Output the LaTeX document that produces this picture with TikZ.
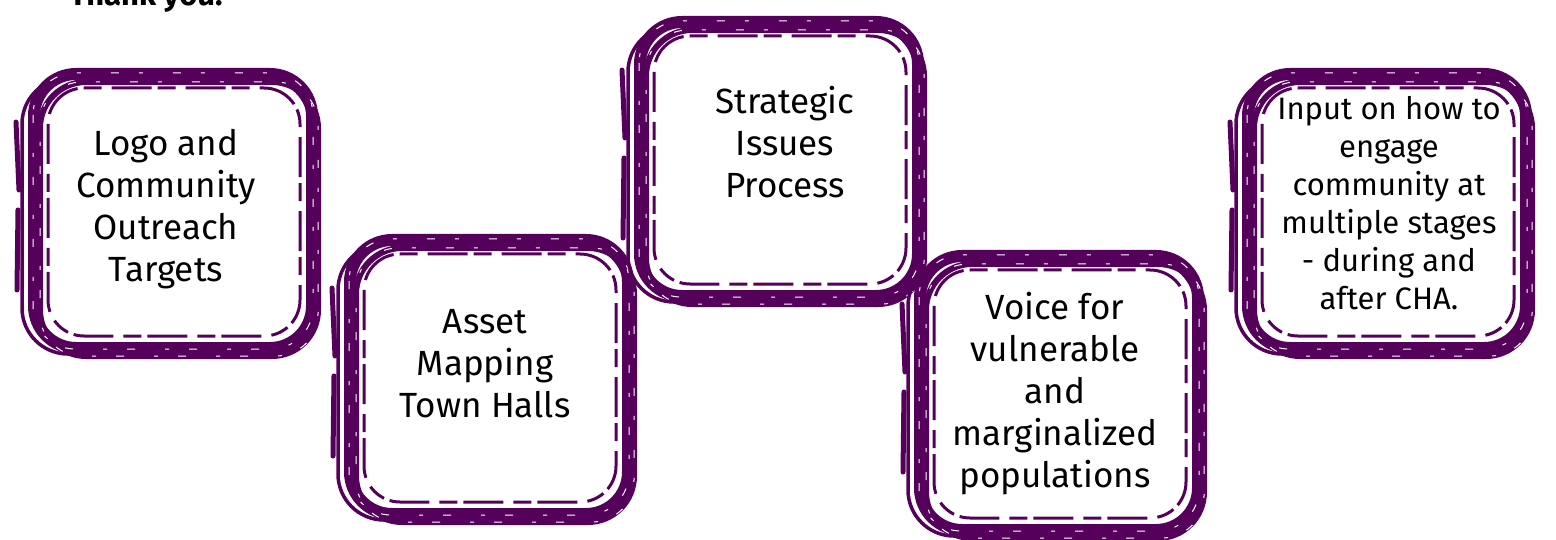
\documentclass[tikz,border=0pt]{standalone}
\usepackage{fontspec}
\setmainfont{Fira Sans}
\definecolor{brushpurple}{HTML}{55005A}
\tikzset{
  x=1pt,y=-1pt,
  brushmain/.style={draw=brushpurple,line width=12pt,rounded corners=42pt,line join=round},
  brushthin/.style={draw=brushpurple,line width=3.5pt,rounded corners=46pt,line join=round},
  brushinner/.style={draw=brushpurple,line width=3pt,rounded corners=36pt,dash pattern=on 40pt off 10pt on 18pt off 6pt},
  brushgap/.style={draw=white,line width=1pt,rounded corners=42pt,dash pattern=on 8pt off 30pt on 4pt off 20pt},
  boxtext/.style={align=center,text=black,font=\fontsize{35}{42}\selectfont},
  smalltext/.style={align=center,text=black,font=\fontsize{31}{38}\selectfont},
}
\newcommand\brushbox[2]{% center x, center y
  \begin{scope}[shift={(#1,#2)}]
    \path[brushthin] (-150,-132) rectangle (138,144);
    \path[brushmain] (-138,-136) rectangle (140,138);
    \path[brushthin,line width=6pt] (-132,-128) rectangle (146,146);
    \path[draw=brushpurple,line width=5pt,line cap=round] (-156,-88) -- (-153,-20) (-154,0) -- (-155,80);
    \path[brushinner] (-124,-122) rectangle (128,126);
    \path[brushgap] (-139,-137) rectangle (141,139);
    \path[brushgap,dash phase=20pt] (-132,-128) rectangle (146,146);
  \end{scope}}
\begin{document}
\begin{tikzpicture}
\useasboundingbox[fill=white] (0,0) rectangle (1556,540);
\brushbox{172}{210}
\brushbox{488}{376}
\brushbox{778}{158}
\brushbox{1058}{392}
\brushbox{1386}{210}
\node[font=\bfseries\fontsize{31}{36}\selectfont,anchor=base west] (thanks) at (66,6) {Thank you!};
\node[boxtext] (logo) at (166,209) {Logo and\\Community\\Outreach\\Targets};
\node[boxtext] (asset) at (485,364) {Asset\\Mapping\\Town Halls};
\node[boxtext] (strategic) at (785,142) {Strategic\\Issues\\Process};
\node[boxtext] (voice) at (1055,394) {Voice for\\vulnerable\\and\\marginalized\\populations};
\node[smalltext] (input) at (1389,203) {Input on how to\\engage\\community at\\multiple stages\\- during and\\after CHA.};
\end{tikzpicture}
\end{document}
